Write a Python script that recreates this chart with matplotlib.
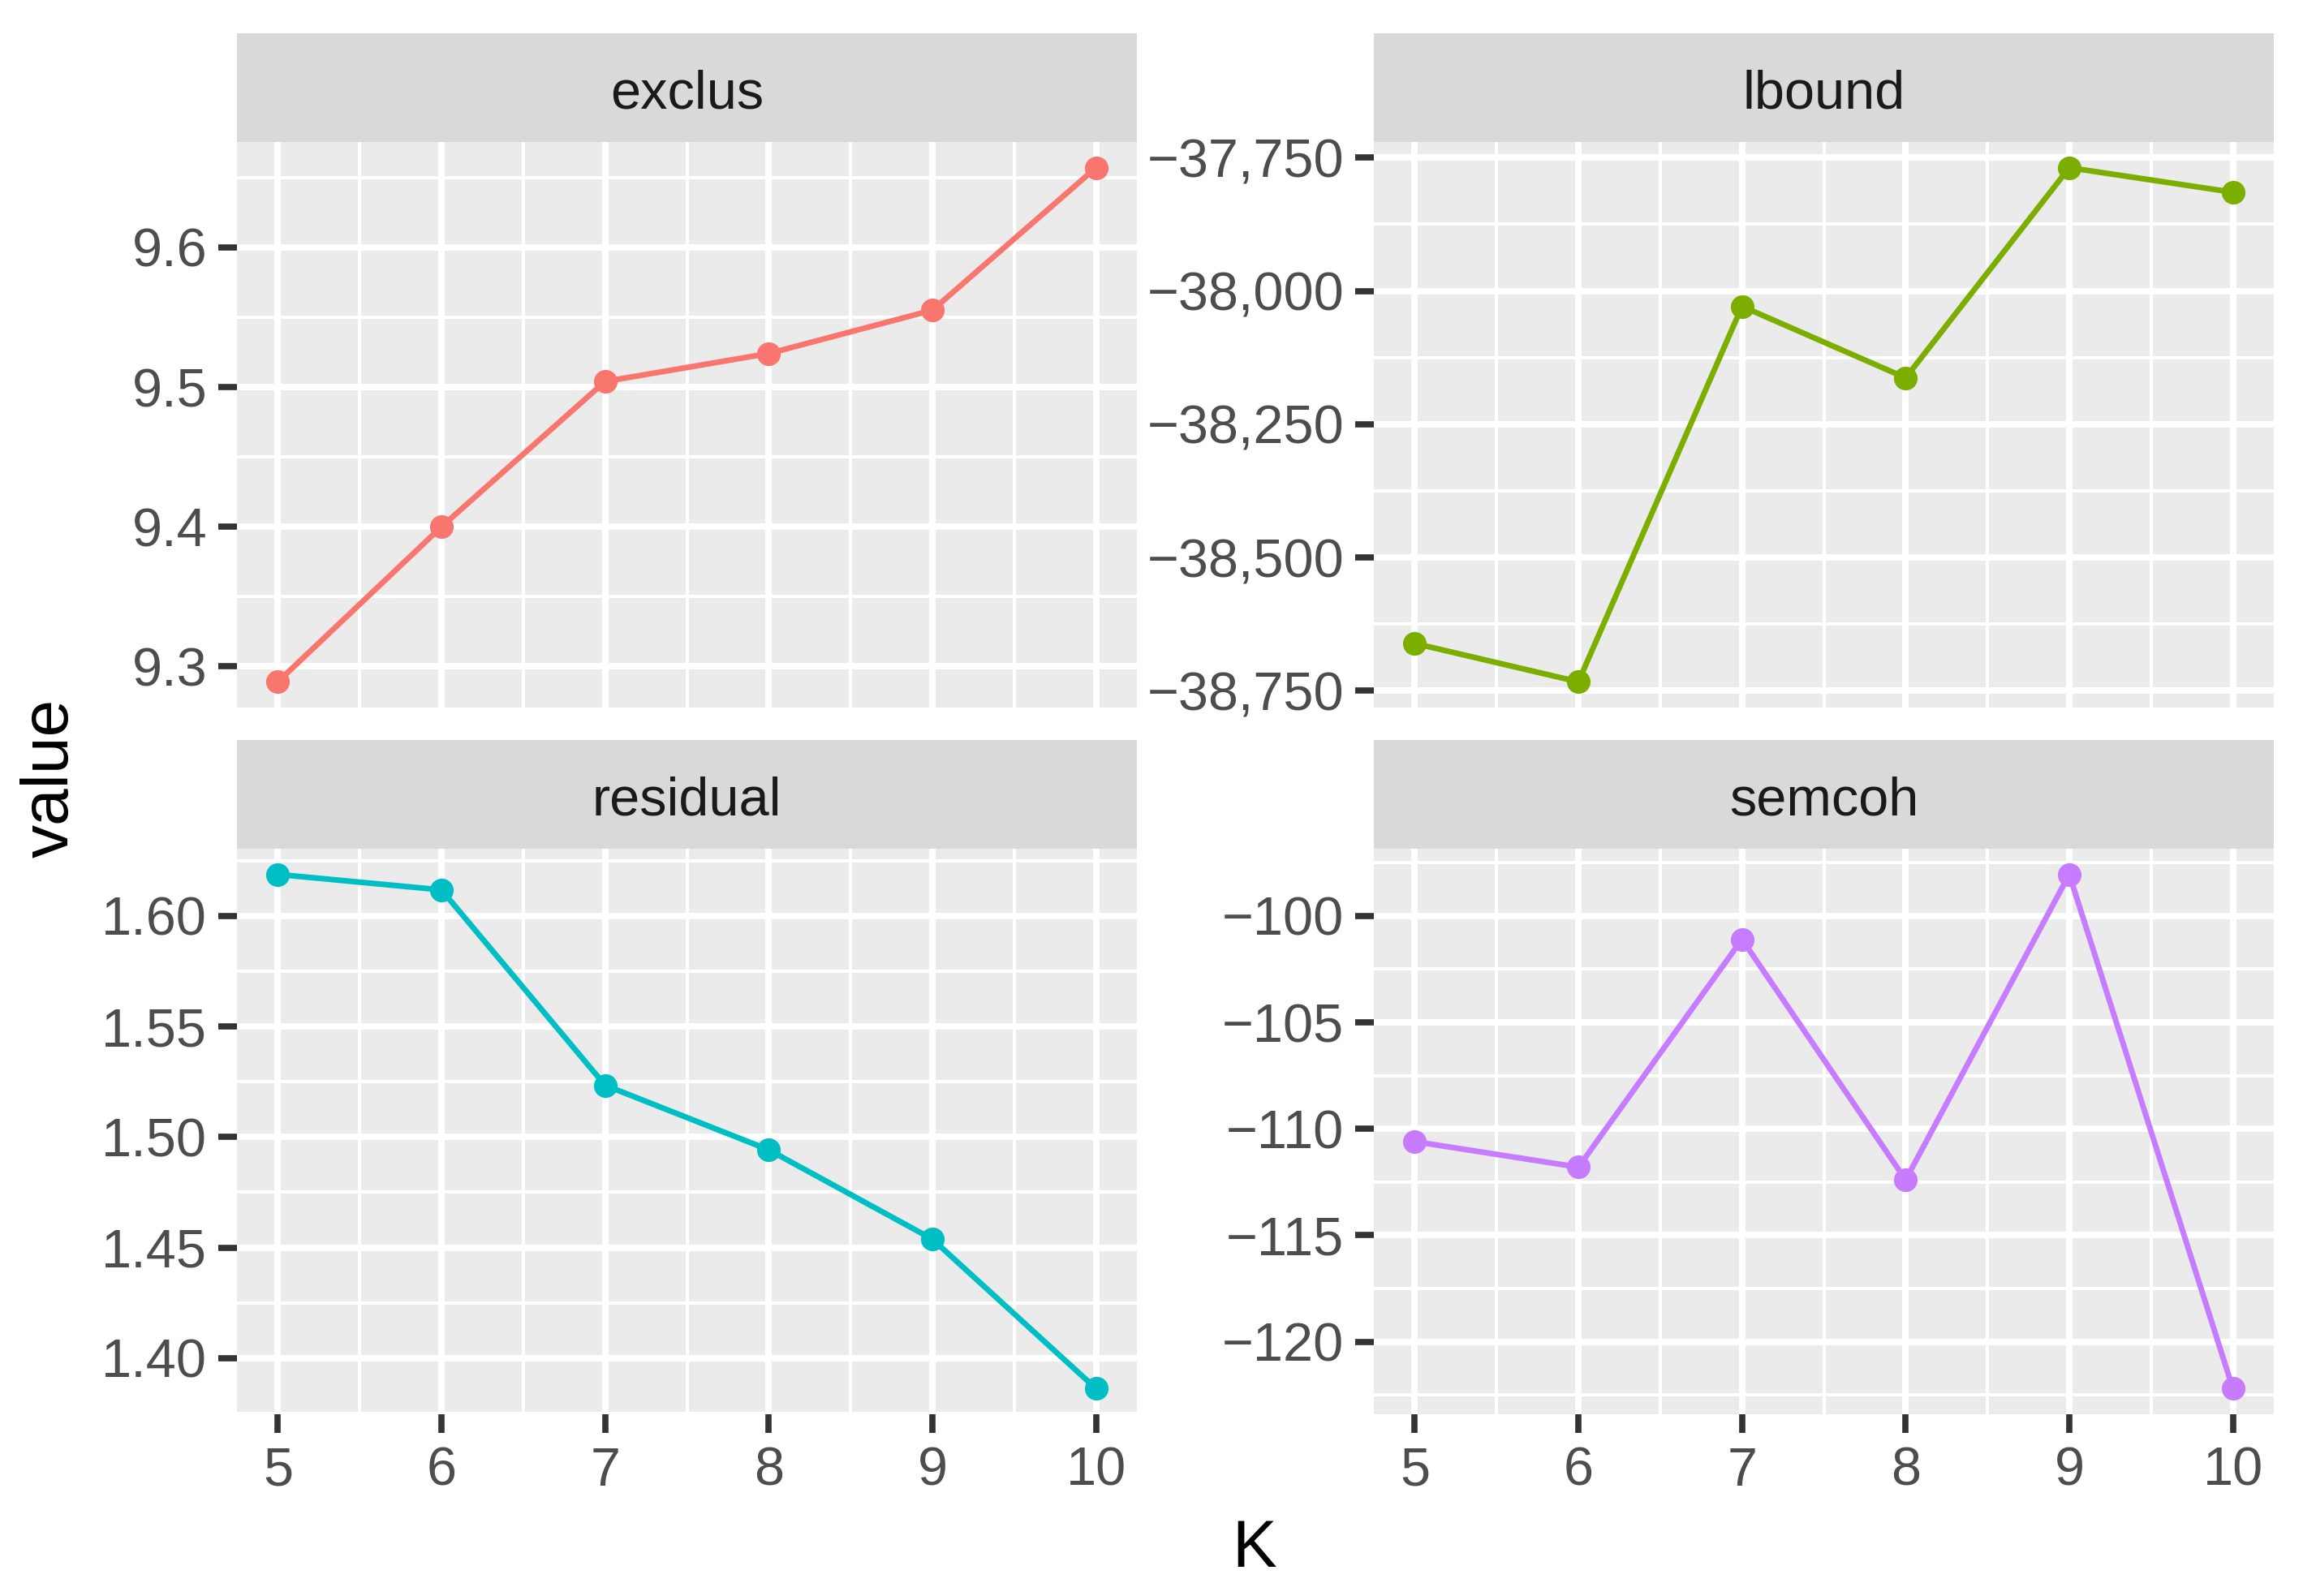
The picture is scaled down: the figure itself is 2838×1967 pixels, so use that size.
import matplotlib
matplotlib.use('Agg')
import matplotlib.pyplot as plt
from matplotlib.ticker import FixedLocator, AutoMinorLocator, FuncFormatter

# ---- data ----
K = [5, 6, 7, 8, 9, 10]
exclus = [9.289, 9.400, 9.504, 9.524, 9.555, 9.657]
lbound = [-38661, -38733, -38029, -38163, -37769, -37815]
residual = [1.6188, 1.6118, 1.5234, 1.4942, 1.4538, 1.3862]
semcoh = [-110.6, -111.8, -101.1, -112.4, -98.05, -122.2]

panel_names = ['exclus', 'lbound', 'residual', 'semcoh']
panel_values = [exclus, lbound, residual, semcoh]
colors = ['#F8766D', '#7CAE00', '#00BFC4', '#C77CFF']

x_ticks = [5, 6, 7, 8, 9, 10]
y_ticks = [
    [9.3, 9.4, 9.5, 9.6],
    [-38750, -38500, -38250, -38000, -37750],
    [1.40, 1.45, 1.50, 1.55, 1.60],
    [-120, -115, -110, -105, -100],
]

MINUS = '\u2212'


def fmt_exclus(v, p):
    return f'{v:.1f}'.replace('-', MINUS)


def fmt_lbound(v, p):
    return f'{v:,.0f}'.replace('-', MINUS)


def fmt_residual(v, p):
    return f'{v:.2f}'.replace('-', MINUS)


def fmt_semcoh(v, p):
    return f'{v:.0f}'.replace('-', MINUS)


formatters = [fmt_exclus, fmt_lbound, fmt_residual, fmt_semcoh]

plt.rcParams['font.family'] = ['Liberation Sans', 'DejaVu Sans']

W, H = 2838, 1967
fig = plt.figure(figsize=(W / 100, H / 100), dpi=100)
fig.patch.set_facecolor('white')

# layout in pixels
col_x = [(292, 1401), (1693, 2802)]
row_y = [(175, 872), (1046, 1743)]  # panel top, panel bottom
strip_h = 134

TICK_FS = 48
for i, name in enumerate(panel_names):
    r, c = divmod(i, 2)
    x0, x1 = col_x[c]
    yt, yb = row_y[r]
    ax = fig.add_axes([x0 / W, 1 - yb / H, (x1 - x0) / W, (yb - yt) / H])
    ax.set_facecolor('#EBEBEB')
    for s in ax.spines.values():
        s.set_visible(False)
    ax.set_axisbelow(True)

    ax.plot(K, panel_values[i], color=colors[i], lw=5, marker='o',
            markersize=21, markeredgewidth=0, solid_capstyle='butt')
    ax.margins(x=0.05, y=0.05)

    ax.xaxis.set_major_locator(FixedLocator(x_ticks))
    ax.xaxis.set_minor_locator(AutoMinorLocator(2))
    ax.yaxis.set_major_locator(FixedLocator(y_ticks[i]))
    ax.yaxis.set_minor_locator(AutoMinorLocator(2))
    ax.yaxis.set_major_formatter(FuncFormatter(formatters[i]))
    ax.xaxis.set_major_formatter(FuncFormatter(lambda v, p: f'{v:.0f}'))

    ax.grid(which='major', color='white', lw=5.8)
    ax.grid(which='minor', color='white', lw=2.9)

    ax.tick_params(which='minor', length=0)
    ax.tick_params(axis='y', which='major', length=16.5, width=5.5, color='#333333',
                   labelcolor='#4D4D4D', labelsize=TICK_FS, pad=10)
    if r == 0:
        ax.tick_params(axis='x', which='major', length=0, labelbottom=False)
    else:
        ax.tick_params(axis='x', which='major', length=16.5, width=5.5, color='#333333',
                       labelcolor='#4D4D4D', labelsize=TICK_FS, pad=12)

    # facet strip
    sax = fig.add_axes([x0 / W, 1 - yt / H, (x1 - x0) / W, strip_h / H])
    sax.set_facecolor('#D9D9D9')
    for s in sax.spines.values():
        s.set_visible(False)
    sax.set_xticks([])
    sax.set_yticks([])
    sax.text(0.5, 0.44, name, transform=sax.transAxes, ha='center', va='center',
             fontsize=TICK_FS, color='#1A1A1A')

fig.text(63 / W, 1 - 959 / H, 'value', rotation=90, ha='center', va='center',
         fontsize=59, color='black')
fig.text(1546 / W, 1 - 1910 / H, 'K', ha='center', va='center',
         fontsize=59, color='black')

fig.savefig('out.png', dpi=100, facecolor='white')
